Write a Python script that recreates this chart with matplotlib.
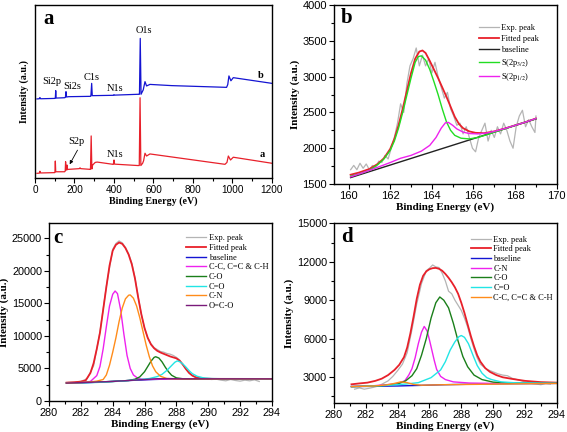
import matplotlib
matplotlib.use('Agg')
import matplotlib.pyplot as plt
from matplotlib.ticker import MultipleLocator

plt.rcParams['mathtext.fontset'] = 'stix'
SERIF = 'Liberation Serif'
SANS = 'Liberation Sans'

# ---------------- (a) survey spectra ----------------
a_red_x = [10, 22, 25, 28, 100, 101, 103, 105, 150, 153, 155, 157, 160, 162, 164, 168, 172,
           225, 228, 231, 278, 281, 284.5, 288, 292, 305, 315, 395, 397, 400, 403, 520, 528,
           532, 536, 545, 550, 557, 565, 582, 962, 972, 979, 990, 1004, 1200]
a_red_y = [2.7, 2.8, 3.9, 2.9, 3.1, 3.3, 9.8, 3.6, 3.6, 4.0, 9.4, 4.5, 4.8, 7.5, 4.8, 5.0, 5.0,
           5.4, 5.9, 5.4, 5.0, 5.0, 24.3, 5.2, 7.5, 9.0, 9.2, 7.9, 7.9, 10.4, 8.0, 7.2, 7.2,
           46.4, 7.2, 8.5, 10.0, 14.3, 12.7, 13.9, 7.9, 9.0, 12.7, 10.4, 12.0, 8.5]

a_blue_x = [10, 22, 25, 28, 100, 103, 105, 107, 150, 154, 157, 160, 170, 280, 283, 287, 290,
            295, 397, 400, 403, 525, 529, 533, 537, 548, 557, 565, 582, 692, 970, 976, 982,
            992, 1004, 1200]
a_blue_y = [45.7, 45.8, 46.5, 45.8, 46.0, 46.2, 50.5, 46.2, 46.4, 46.6, 49.9, 46.8, 47.0, 47.2,
            47.3, 54.7, 47.6, 47.6, 47.8, 48.2, 47.9, 48.4, 48.4, 80.7, 48.4, 50.9, 55.7, 53.2,
            54.1, 53.4, 52.4, 54.0, 59.0, 56.2, 58.0, 54.7]

a_labels = ['O1s', 'Si2p', 'Si2s', 'C1s', 'N1s', 'S2p', 'N1s']
a_label_x = [549, 84, 188, 287, 405, 211, 405]
a_label_y = [85, 56, 53, 58, 52, 21, 13.3]

# ---------------- (b) S2p ----------------
b_exp_x = [160.10, 160.25, 160.40, 160.55, 160.70, 160.85, 161.00, 161.15, 161.30, 161.45,
           161.60, 161.75, 161.90, 162.05, 162.20, 162.35, 162.50, 162.65, 162.80, 162.95,
           163.10, 163.25, 163.40, 163.55, 163.70, 163.85, 164.00, 164.15, 164.30, 164.45,
           164.60, 164.75, 164.90, 165.05, 165.20, 165.35, 165.50, 165.65, 165.80, 165.95,
           166.10, 166.25, 166.40, 166.55, 166.70, 166.85, 167.00, 167.15, 167.30, 167.45,
           167.60, 167.75, 167.90, 168.05, 168.20, 168.35, 168.50, 168.65, 168.80, 168.95, 169.00]
b_exp_y = [1700, 1760, 1700, 1790, 1720, 1780, 1700, 1760, 1730, 1820,
           1800, 1900, 1850, 2000, 2150, 2350, 2620, 2500, 2900, 3150,
           3250, 3400, 3150, 3300, 3150, 3250, 3050, 3200, 3000, 2850,
           2700, 2780, 2550, 2450, 2320, 2350, 2200, 2300, 2150, 2000,
           1950, 2150, 2250, 2350, 2100, 2250, 2150, 2300, 2200, 2350,
           2250, 2100, 2000, 2300, 2450, 2530, 2300, 2400, 2300, 2220, 2450]

b_fit_x = [160.1, 160.5, 161.0, 161.4, 161.7, 162.0, 162.2, 162.4, 162.6, 162.8, 163.0, 163.2,
           163.4, 163.55, 163.7, 163.9, 164.1, 164.3, 164.5, 164.7, 164.9, 165.1, 165.3, 165.5,
           165.8, 166.1, 166.5, 167.0, 167.5, 168.0, 168.5, 169.0]
b_fit_y = [1630, 1660, 1710, 1780, 1860, 1990, 2130, 2320, 2550, 2800, 3050, 3250,
           3350, 3365, 3330, 3220, 3100, 2980, 2850, 2720, 2580, 2440, 2340, 2280,
           2235, 2215, 2210, 2235, 2275, 2320, 2365, 2415]

b_base_x = [160.1, 169.0]
b_base_y = [1590, 2410]

b_p32_x = [160.1, 160.5, 161.0, 161.4, 161.7, 162.0, 162.2, 162.4, 162.6, 162.8, 163.0, 163.2,
           163.35, 163.5, 163.7, 163.9, 164.1, 164.3, 164.5, 164.7, 164.9, 165.1, 165.4, 165.8,
           166.2, 166.6, 167.0, 167.5, 168.0, 168.5, 169.0]
b_p32_y = [1610, 1640, 1690, 1770, 1850, 1970, 2100, 2280, 2500, 2740, 2980, 3200,
           3280, 3290, 3230, 3100, 2930, 2750, 2550, 2370, 2250, 2180, 2140, 2130,
           2150, 2185, 2225, 2270, 2320, 2365, 2412]

b_p12_x = [160.1, 161.0, 162.0, 162.5, 163.0, 163.5, 163.9, 164.2, 164.45, 164.65, 164.8, 165.0,
           165.2, 165.5, 165.8, 166.2, 166.6, 167.0, 167.5, 168.0, 168.5, 169.0]
b_p12_y = [1600, 1690, 1800, 1860, 1900, 1960, 2040, 2150, 2280, 2355, 2360, 2320,
           2270, 2225, 2205, 2200, 2210, 2235, 2275, 2320, 2365, 2415]

# ---------------- (c) C1s ----------------
c_exp_x = [281.2, 281.6, 282.0, 282.4, 282.8, 283.2, 283.6, 284.0, 284.2, 284.4, 284.6, 284.8,
           285.0, 285.2, 285.4, 285.6, 285.8, 286.0, 286.2, 286.4, 286.6, 286.8, 287.0, 287.2,
           287.4, 287.6, 287.8, 288.0, 288.2, 288.4, 288.6, 288.8, 289.0, 289.3, 289.6, 289.9,
           290.2, 290.5, 290.8, 291.1, 291.4, 291.7, 292.0, 292.3, 292.6, 292.9, 293.2]
c_exp_y = [2850, 2900, 3000, 3450, 5400, 10600, 17600, 23300, 24200, 24600, 24300, 23600,
           22600, 21200, 18900, 16000, 13300, 11200, 9700, 8800, 8200, 7900, 7600, 7500,
           7300, 7200, 7000, 6700, 6300, 5600, 4900, 4300, 3900, 3600, 3500, 3400,
           3300, 3350, 3200, 3100, 3300, 3150, 3050, 3200, 3100, 3250, 3000]

c_fit_x = [281.1, 281.6, 282.0, 282.3, 282.6, 282.8, 283.0, 283.2, 283.4, 283.6, 283.8, 284.0,
           284.2, 284.4, 284.6, 284.8, 285.0, 285.2, 285.4, 285.6, 285.8, 286.0, 286.2, 286.4,
           286.6, 286.8, 287.0, 287.2, 287.4, 287.6, 287.8, 288.0, 288.2, 288.4, 288.6, 288.8,
           289.0, 289.2, 289.5, 289.8, 290.3, 294.0]
c_fit_y = [2820, 2880, 2980, 3150, 4300, 5800, 8000, 10500, 14000, 17500, 20800, 23100,
           24000, 24350, 24150, 23500, 22500, 21000, 18800, 15900, 13300, 11200, 9700, 8700,
           8100, 7700, 7450, 7250, 7050, 6850, 6700, 6550, 6200, 5600, 4900, 4300,
           3900, 3650, 3500, 3430, 3400, 3390]

c_base_x = [281.1, 282.5, 283.5, 284.5, 285.5, 286.5, 287.5, 288.5, 294.0]
c_base_y = [2750, 2820, 2950, 3080, 3200, 3300, 3370, 3395, 3400]

c_cc_x = [281.1, 282.0, 282.6, 283.0, 283.2, 283.4, 283.6, 283.8, 284.0, 284.15, 284.3, 284.5,
          284.7, 284.9, 285.1, 285.3, 285.6, 286.0, 287.0, 288.0, 294.0]
c_cc_y = [2750, 2820, 3000, 3900, 5300, 8000, 11400, 14600, 16400, 16900, 16500, 14000,
          10300, 7000, 5000, 4000, 3450, 3300, 3350, 3390, 3400]

c_co_x = [281.1, 284.0, 285.0, 285.4, 285.7, 286.0, 286.2, 286.4, 286.6, 286.7, 286.9, 287.1,
          287.3, 287.5, 287.7, 288.0, 288.4, 289.0, 294.0]
c_co_y = [2750, 3000, 3150, 3350, 3700, 4500, 5300, 6100, 6700, 6800, 6600, 6000,
          5200, 4500, 3950, 3550, 3420, 3400, 3400]

c_c_o_x = [281.1, 283.0, 284.5, 285.5, 286.3, 286.8, 287.1, 287.4, 287.7, 287.9, 288.05, 288.2,
           288.4, 288.6, 288.8, 289.0, 289.3, 289.7, 290.2, 291.0, 294.0]
c_c_o_y = [2750, 2850, 3050, 3250, 3450, 3750, 4100, 4700, 5450, 5950, 6150, 6050,
           5700, 5200, 4650, 4200, 3800, 3550, 3450, 3410, 3400]

c_cn_x = [281.1, 282.5, 283.0, 283.4, 283.6, 283.8, 284.0, 284.2, 284.4, 284.6, 284.8, 285.0,
          285.1, 285.3, 285.5, 285.7, 285.9, 286.1, 286.3, 286.5, 286.7, 287.0, 287.4, 288.0, 294.0]
c_cn_y = [2750, 2900, 3050, 3300, 4000, 5500, 7500, 9700, 12200, 14300, 15700, 16250,
          16300, 15800, 14600, 12800, 10700, 8600, 6800, 5400, 4500, 3800, 3450, 3390, 3400]

c_oco_x = [281.1, 284.0, 285.0, 286.0, 286.8, 287.5, 288.3, 294.0]
c_oco_y = [2750, 3000, 3150, 3300, 3420, 3440, 3410, 3400]

# ---------------- (d) ----------------
d_exp_x = [281.3, 281.6, 281.9, 282.2, 282.5, 282.8, 283.1, 283.4, 283.7, 284.0, 284.3, 284.6,
           284.9, 285.2, 285.5, 285.8, 286.0, 286.2, 286.4, 286.6, 286.8, 287.0, 287.2, 287.4,
           287.6, 287.8, 288.0, 288.2, 288.4, 288.6, 288.8, 289.0, 289.2, 289.4, 289.6, 289.8,
           290.0, 290.3, 290.6, 290.9, 291.2, 291.5, 291.8, 292.1, 292.4, 292.7, 293.0, 293.3, 293.6]
d_exp_y = [2050, 2150, 2050, 2120, 2200, 2300, 2500, 2700, 3050, 3500, 4000, 4900,
           6700, 8700, 10300, 11300, 11500, 11750, 11600, 11550, 11100, 10500, 9700, 9500,
           9000, 8600, 8200, 7600, 6900, 6000, 5200, 4500, 4000, 3800, 3600, 3500,
           3400, 3250, 3150, 3100, 2900, 2800, 2700, 2550, 2500, 2450, 2400, 2500, 2450]

d_fit_x = [281.1, 281.6, 282.1, 282.6, 283.0, 283.4, 283.8, 284.1, 284.4, 284.6, 284.8, 285.0,
           285.2, 285.4, 285.6, 285.8, 286.0, 286.2, 286.4, 286.6, 286.8, 287.0, 287.2, 287.4,
           287.6, 287.8, 288.0, 288.2, 288.4, 288.6, 288.8, 289.0, 289.2, 289.5, 289.8, 290.2,
           290.6, 291.2, 292.0, 293.0, 294.0]
d_fit_y = [2430, 2500, 2560, 2700, 2870, 3150, 3550, 3950, 4550, 5300, 6400, 7700,
           9100, 10200, 10900, 11250, 11420, 11500, 11520, 11450, 11300, 11050, 10750, 10400,
           10000, 9500, 8800, 8000, 7100, 6200, 5400, 4700, 4200, 3700, 3400, 3150,
           2980, 2850, 2700, 2600, 2560]

d_base_x = [281.1, 284.0, 287.0, 290.0, 294.0]
d_base_y = [2250, 2300, 2400, 2470, 2500]

d_cn_x = [281.1, 282.5, 283.5, 284.0, 284.45, 284.7, 284.9, 285.1, 285.3, 285.5, 285.67, 285.85,
          286.0, 286.15, 286.3, 286.45, 286.7, 287.0, 287.5, 288.5, 290.0, 294.0]
d_cn_y = [2260, 2320, 2420, 2500, 2700, 3150, 3650, 4500, 5600, 6500, 6950, 6600,
          5900, 5100, 4300, 3600, 3050, 2800, 2620, 2530, 2500, 2510]

d_co_x = [281.1, 283.0, 284.0, 284.5, 284.9, 285.2, 285.5, 285.8, 286.1, 286.4, 286.65, 286.9,
          287.2, 287.5, 287.8, 288.1, 288.4, 288.8, 289.3, 290.0, 291.0, 294.0]
d_co_y = [2250, 2320, 2450, 2700, 3100, 3650, 4700, 6000, 7600, 8800, 9250, 9000,
          8400, 7200, 5800, 4600, 3800, 3150, 2800, 2600, 2530, 2510]

d_c_o_x = [281.1, 283.0, 284.5, 285.3, 286.1, 286.7, 287.0, 287.3, 287.6, 287.85, 288.0, 288.2,
           288.45, 288.75, 289.0, 289.3, 289.6, 289.9, 290.5, 291.5, 294.0]
d_c_o_y = [2250, 2320, 2450, 2560, 2950, 3550, 4200, 5100, 5750, 6150, 6240, 6100,
           5600, 4650, 3900, 3300, 2950, 2800, 2620, 2540, 2510]

d_cc_x = [281.1, 282.5, 283.3, 283.8, 284.2, 284.6, 285.0, 285.5, 287.0, 294.0]
d_cc_y = [2250, 2300, 2380, 2500, 2620, 2560, 2420, 2360, 2400, 2500]

# colours
RED = '#e8202a'
GREY = '#b4b4b4'
BLUE = '#1414d2'
MAG = '#ee22ee'
LGREEN = '#22dd22'
DGREEN = '#1a7f1a'
CYAN = '#22e5e5'
ORANGE = '#ff8c1a'
PURPLE = '#7a1a7a'


def style(ax, tsize):
    ax.tick_params(which='both', direction='out', top=False, right=False, width=0.8)
    ax.tick_params(which='major', length=3.5, labelsize=tsize, pad=1.5)
    ax.tick_params(which='minor', length=2)
    for lab in ax.get_xticklabels() + ax.get_yticklabels():
        lab.set_fontfamily(SANS)
    for s in ax.spines.values():
        s.set_linewidth(1.0)


def labels(ax, size):
    ax.set_xlabel('Binding Energy (eV)', fontfamily=SERIF, fontweight='bold', fontsize=size, labelpad=1)
    ax.set_ylabel('Intensity (a.u.)', fontfamily=SERIF, fontweight='bold', fontsize=size, labelpad=2)


def legend(ax, x, y, spacing):
    ax.legend(loc='upper left', bbox_to_anchor=(x, y), frameon=False, borderpad=0,
              prop={'family': SERIF, 'size': 6}, handlelength=2.4, handletextpad=0.3,
              labelspacing=spacing)


fig = plt.figure(figsize=(5.67, 4.32), dpi=100)

# ---- panel a
ax = fig.add_axes([0.0617, 0.588, 0.418, 0.4004])
ax.plot(a_red_x, a_red_y, color=RED, lw=0.9)
ax.plot(a_blue_x, a_blue_y, color=BLUE, lw=0.9)
ax.set_xlim(0, 1200)
ax.set_ylim(0, 100)
ax.set_yticks([])
ax.xaxis.set_major_locator(MultipleLocator(200))
ax.xaxis.set_minor_locator(MultipleLocator(100))
style(ax, 7.2)
labels(ax, 7.2)
ax.yaxis.labelpad = 4
for t, x, y in zip(a_labels, a_label_x, a_label_y):
    ax.text(x, y, t, fontfamily=SERIF, fontsize=7.5, ha='center', va='center')
ax.annotate('', xy=(169, 6.5), xytext=(222, 17.5),
            arrowprops=dict(arrowstyle='-|>', color='black', lw=0.6, mutation_scale=5))
ax.text(1141, 59.5, 'b', fontfamily=SERIF, fontweight='bold', fontsize=7.5, ha='center', va='center')
ax.text(1149, 13.3, 'a', fontfamily=SERIF, fontweight='bold', fontsize=7.5, ha='center', va='center')
ax.text(0.035, 0.92, 'a', transform=ax.transAxes, fontfamily=SERIF, fontweight='bold',
        fontsize=15, ha='left', va='center')

# ---- panel b
ax = fig.add_axes([0.589, 0.574, 0.393, 0.4144])
ax.plot(b_exp_x, b_exp_y, color=GREY, lw=0.9, label='Exp. peak')
ax.plot(b_fit_x, b_fit_y, color=RED, lw=1.3, label='Fitted peak')
ax.plot(b_base_x, b_base_y, color='#222222', lw=1.0, label='baseline')
ax.plot(b_p32_x, b_p32_y, color=LGREEN, lw=1.0, label='S(2p$_{3/2}$)')
ax.plot(b_p12_x, b_p12_y, color=MAG, lw=1.0, label='S(2p$_{1/2}$)')
ax.set_xlim(159.3, 170)
ax.set_ylim(1500, 4000)
ax.xaxis.set_major_locator(MultipleLocator(2))
ax.xaxis.set_minor_locator(MultipleLocator(1))
ax.yaxis.set_major_locator(MultipleLocator(500))
ax.yaxis.set_minor_locator(MultipleLocator(250))
style(ax, 8)
labels(ax, 8)
legend(ax, 0.632, 0.915, 0.33)
ax.text(0.03, 0.93, 'b', transform=ax.transAxes, fontfamily=SERIF, fontweight='bold',
        fontsize=15, ha='left', va='center')

# ---- panel c
ax = fig.add_axes([0.0864, 0.0718, 0.3933, 0.4112])
ax.plot(c_exp_x, c_exp_y, color=GREY, lw=0.9, label='Exp. peak')
ax.plot(c_fit_x, c_fit_y, color=RED, lw=1.3, label='Fitted peak')
ax.plot(c_base_x, c_base_y, color=BLUE, lw=1.0, label='baseline')
ax.plot(c_cc_x, c_cc_y, color=MAG, lw=1.0, label='C-C, C=C & C-H')
ax.plot(c_co_x, c_co_y, color=DGREEN, lw=1.0, label='C-O')
ax.plot(c_c_o_x, c_c_o_y, color=CYAN, lw=1.0, label='C=O')
ax.plot(c_cn_x, c_cn_y, color=ORANGE, lw=1.0, label='C-N')
ax.plot(c_oco_x, c_oco_y, color=PURPLE, lw=1.0, label='O=C-O')
ax.set_xlim(280, 294)
ax.set_ylim(0, 27300)
ax.xaxis.set_major_locator(MultipleLocator(2))
ax.xaxis.set_minor_locator(MultipleLocator(1))
ax.yaxis.set_major_locator(MultipleLocator(5000))
ax.yaxis.set_minor_locator(MultipleLocator(2500))
style(ax, 7.8)
labels(ax, 8)
legend(ax, 0.596, 0.962, 0.2)
ax.text(0.02, 0.915, 'c', transform=ax.transAxes, fontfamily=SERIF, fontweight='bold',
        fontsize=15, ha='left', va='center')

# ---- panel d
ax = fig.add_axes([0.589, 0.068, 0.393, 0.415])
ax.plot(d_exp_x, d_exp_y, color=GREY, lw=0.9, label='Exp. peak')
ax.plot(d_fit_x, d_fit_y, color=RED, lw=1.3, label='Fitted peak')
ax.plot(d_base_x, d_base_y, color=BLUE, lw=1.0, label='baseline')
ax.plot(d_cn_x, d_cn_y, color=MAG, lw=1.0, label='C-N')
ax.plot(d_co_x, d_co_y, color=DGREEN, lw=1.0, label='C-O')
ax.plot(d_c_o_x, d_c_o_y, color=CYAN, lw=1.0, label='C=O')
ax.plot(d_cc_x, d_cc_y, color=ORANGE, lw=1.0, label='C-C, C=C & C-H')
ax.set_xlim(280, 294)
ax.set_ylim(1000, 15000)
ax.set_yticks([3000, 6000, 9000, 12000, 15000])
ax.xaxis.set_major_locator(MultipleLocator(2))
ax.xaxis.set_minor_locator(MultipleLocator(1))
ax.yaxis.set_minor_locator(MultipleLocator(1500))
style(ax, 7.8)
labels(ax, 8)
legend(ax, 0.595, 0.955, 0.2)
ax.text(0.03, 0.925, 'd', transform=ax.transAxes, fontfamily=SERIF, fontweight='bold',
        fontsize=15, ha='left', va='center')

fig.savefig('out.png', dpi=100)
